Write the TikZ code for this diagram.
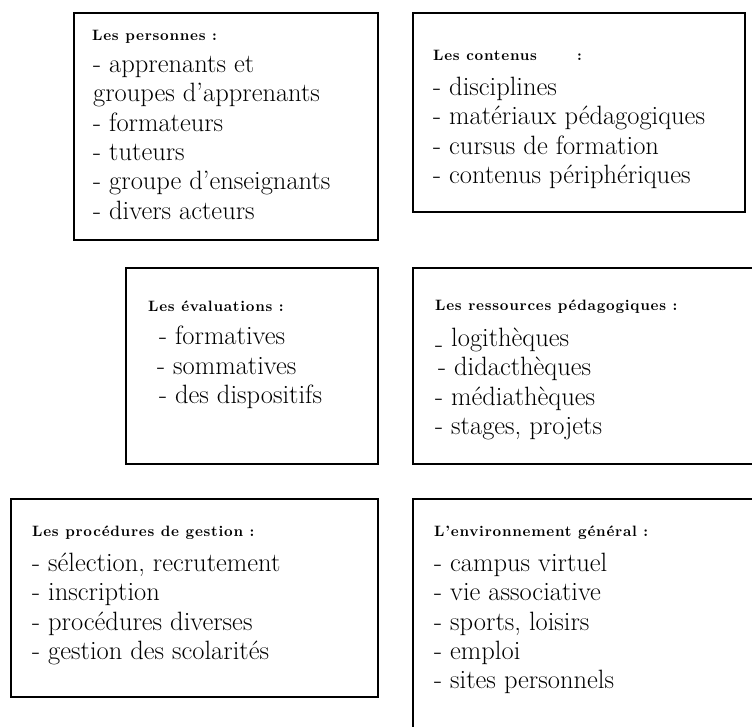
\documentclass[tikz,border=0pt]{standalone}
\usepackage{fontspec}
\newfontfamily\entetefont{lmroman10}[Extension=.otf, UprightFont=*-regular,
  BoldFont=*-bold, LetterSpace=5]
\usepackage{tikz}
\usetikzlibrary{calc}
\tikzset{
  cadre/.style={draw, line width=1.6pt, inner sep=0pt, outer sep=0pt,
    anchor=north west},
  entete/.style={anchor=base west, inner sep=0pt,
    font=\entetefont\bfseries\fontsize{15}{18}\selectfont},
  liste/.style={anchor=north west, inner sep=0pt, align=left,
    font=\fontsize{26.5}{29.3}\selectfont, execute at begin node=\strut}
}

\begin{document}
\begin{tikzpicture}[x=1pt, y=-1pt]
  \useasboundingbox (0,0) rectangle (752,726);
  \clip (0,0) rectangle (752,726);

  \node[cadre, minimum width=304pt, minimum height=227pt] (pers) at (74,13) {};
  \node[cadre, minimum width=332pt, minimum height=199pt] (cont) at (413,13) {};
  \node[cadre, minimum width=252pt, minimum height=196pt] (eval) at (126,268) {};
  \node[cadre, minimum width=360pt, minimum height=196pt] (ress) at (413,268) {};
  \node[cadre, minimum width=367pt, minimum height=198pt] (gest) at (11,499) {};
  \node[cadre, minimum width=360pt, minimum height=260pt] (envi) at (413,499) {};

  \node[entete] (persH) at ($(pers.north west)+(18,27)$) {Les personnes :};
  \node[liste] (persL) at ($(pers.north west)+(19,43)$)
    {- apprenants et\\groupes d’apprenants\\- formateurs\\- tuteurs\\
     - groupe d’enseignants\\- divers acteurs};

  \node[entete] (contH) at ($(cont.north west)+(20,47)$)
    {Les contenus\hspace{40pt}:};
  \node[liste] (contL) at ($(cont.north west)+(20,64)$)
    {- disciplines\\- matériaux pédagogiques\\- cursus de formation\\
     - contenus périphériques};

  \node[entete] (evalH) at ($(eval.north west)+(22,43)$) {Les évaluations :};
  \node[liste] (evalL) at ($(eval.north west)+(31,58)$)
    {\hspace{2pt}- formatives\\- sommatives\\\hspace{2pt}- des dispositifs};

  \node[entete] (ressH) at ($(ress.north west)+(22,42)$)
    {Les ressources pédagogiques :};
  \node[liste] (ressL) at ($(ress.north west)+(22,60)$)
    {\raisebox{-6pt}{-} logithèques\\\hspace{3pt}- didacthèques\\
     - médiathèques\\- stages, projets};

  \node[entete] (gestH) at ($(gest.north west)+(21,37)$)
    {Les procédures de gestion :};
  \node[liste] (gestL) at ($(gest.north west)+(21,54)$)
    {- sélection, recrutement\\- inscription\\- procédures diverses\\
     - gestion des scolarités};

  \node[entete] (enviH) at ($(envi.north west)+(21,37)$)
    {L’environnement général :};
  \node[liste] (enviL) at ($(envi.north west)+(21,54)$)
    {- campus virtuel\\- vie associative\\- sports, loisirs\\- emploi\\
     - sites personnels};
\end{tikzpicture}
\end{document}
